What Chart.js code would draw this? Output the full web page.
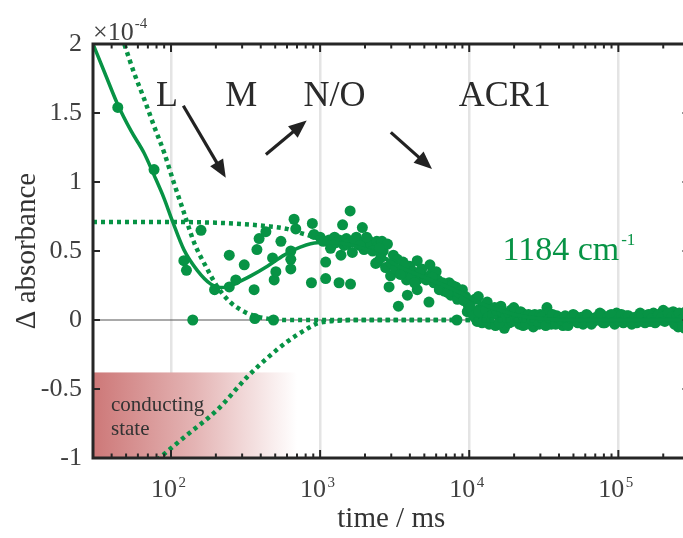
<!DOCTYPE html>
<html>
<head>
<meta charset="utf-8">
<script src="https://cdn.jsdelivr.net/npm/chart.js@4"></script>
<style>
  html, body { margin: 0; padding: 0; overflow: hidden; background: #fff; width: 683px; height: 538px; }
  #wrap { width: 700px; height: 538px; }
</style>
</head>
<body>
<div id="wrap"><canvas id="c" width="700" height="538"></canvas></div>
<script>
// ---- axis ticks ----
const xTicks = [100, 1000, 10000, 100000];
const xTickExp = ['2', '3', '4', '5'];
const yTicks = [-1, -0.5, 0, 0.5, 1, 1.5, 2];
const yTickLabels = ['-1', '-0.5', '0', '0.5', '1', '1.5', '2'];

// ---- measured transient at 1184 cm-1 (time in ms, ΔA in 1e-4) ----
const dataT = [
  44, 77, 122, 127, 140, 159, 196, 246, 246, 272, 310, 361, 365, 377, 390, 433, 480, 492, 505, 487,
  546, 636, 636, 636, 669, 687, 887, 910, 875, 1000, 1090, 1090, 1150, 1175, 1200, 1250, 1340, 1340, 1380, 1415,
  1450, 1500, 1590, 1600, 1600, 1645, 1750, 1920, 1920, 1970, 2100, 2200, 2360, 2400, 2430, 2430, 2600, 2650, 2750, 2830,
  2900, 2970, 3100, 3300, 3350, 3390, 3600, 3800, 3850, 3850, 4000, 4200, 4480, 4480, 4480, 4800, 5000, 5370, 5450, 5530,
  5800, 6000, 6130, 6450, 6790, 7000, 7330, 7530, 7800, 8130, 8260, 8340, 8800, 9000, 9450, 9700, 10000, 10500, 10900, 11100,
  11300, 11500, 11800, 12000, 12500, 13200, 13600, 14000, 14800, 15000, 15500, 16300, 16800, 17200, 17200, 18100, 18600, 19000, 19900, 20400,
  20800, 21700, 22600, 23000, 23600, 24600, 25500, 26000, 26900, 27500, 28300, 29500, 31000, 32000, 33200, 34000, 35500, 37000, 38700, 40600,
  42500, 45000, 47000, 49800, 52000, 55200, 58000, 61200, 64000, 67800, 71000, 75200, 79000, 83300, 87000, 92000, 97300, 102000, 108000, 114000,
  120000, 126000, 133000, 140000, 147000, 155000, 163000, 172000, 181000, 190000, 200000, 211000, 222000, 233000, 243000, 252000, 259000, 266000, 273000, 280000,
  287000, 295000,
  1050, 1280, 1520, 1700, 1850, 2050, 2250, 2500, 2550, 3000, 3200, 3450, 3700, 4100, 4300, 4650, 5150, 5650, 6300, 6600,
  7150, 7700, 8500, 9200, 9900,
  10200, 10700, 11600, 12200, 12900, 13400, 14400, 15200, 15900, 16600, 17600, 18400, 19400, 20100, 21200, 22100, 23300, 24100, 25000, 26400,
  27000, 28900, 29900,
  30500, 32600, 34700, 36200, 38000, 39800, 41500, 44000, 46000, 48500, 51000, 53500, 56500, 59500, 62500, 66000, 69500, 73000, 77000, 81000,
  85000, 89500, 94500, 99500, 105000, 111000, 117000, 123000, 129500, 136500, 143500, 151000, 159000, 167500, 176500, 185500, 195000, 205000, 216000, 227500,
  238000, 248000, 256000, 262500, 269500, 276500, 283500, 291000, 298000
];
const dataV = [
  1.54, 1.09, 0.43, 0.36, 0.00, 0.65, 0.22, 0.47, 0.24, 0.29, 0.40, 0.22, 0.01, 0.51, 0.59, 0.64, 0.45, 0.29, 0.35, 0.00,
  0.57, 0.50, 0.44, 0.37, 0.73, 0.66, 0.70, 0.62, 0.27, 0.60, 0.42, 0.30, 0.58, 0.52, 0.55, 0.60, 0.58, 0.27, 0.47, 0.69,
  0.54, 0.59, 0.79, 0.57, 0.26, 0.49, 0.60, 0.67, 0.56, 0.51, 0.58, 0.55, 0.41, 0.57, 0.53, 0.42, 0.57, 0.50, 0.38, 0.55,
  0.24, 0.32, 0.47, 0.44, 0.10, 0.36, 0.42, 0.29, 0.18, 0.36, 0.39, 0.35, 0.43, 0.29, 0.22, 0.37, 0.31, 0.13, 0.40, 0.33,
  0.27, 0.35, 0.29, 0.24, 0.21, 0.25, 0.27, 0.18, 0.21, 0.24, 0.00, 0.15, 0.19, 0.22, 0.17, 0.06, 0.12, 0.05, 0.15, 0.01,
  -0.01, 0.17, 0.08, 0.02, 0.10, 0.13, -0.03, 0.06, 0.09, -0.04, 0.04, 0.10, 0.00, 0.05, -0.06, 0.02, -0.02, 0.07, 0.09, 0.03,
  0.01, -0.03, 0.05, -0.04, 0.00, 0.03, -0.02, 0.02, -0.05, 0.04, 0.01, -0.03, -0.02, 0.03, 0.09, 0.05, -0.03, 0.01, 0.03, -0.02,
  -0.04, 0.00, 0.02, 0.04, -0.01, 0.01, -0.03, 0.04, 0.00, -0.01, 0.02, 0.05, -0.02, 0.01, 0.03, -0.01, 0.05, 0.02, -0.02, 0.03,
  0.00, 0.00, -0.02, 0.05, 0.01, 0.03, -0.01, 0.05, 0.02, 0.00, 0.07, 0.04, 0.01, 0.06, 0.03, -0.05, 0.01, -0.03, 0.04, -0.06,
  0.02, -0.02,
  0.57, 0.56, 0.55, 0.58, 0.54, 0.60, 0.50, 0.52, 0.45, 0.41, 0.37, 0.33, 0.40, 0.31, 0.27, 0.34, 0.29, 0.31, 0.22, 0.27,
  0.20, 0.25, 0.20, 0.14, 0.10,
  0.09, 0.03, 0.06, -0.02, 0.07, 0.02, 0.04, 0.07, -0.02, 0.06, 0.02, 0.05, -0.01, 0.06, 0.02, 0.06, 0.02, -0.03, 0.04, 0.00,
  0.03, -0.01, 0.04,
  0.02, -0.04, 0.01, 0.04, -0.03, 0.02, 0.00, 0.03, -0.04, 0.01, 0.03, -0.02, 0.02, 0.00, 0.03, -0.03, 0.01, 0.00, 0.04, -0.02,
  0.02, 0.04, -0.03, 0.00, 0.04, 0.01, 0.03, -0.03, 0.02, 0.00, 0.03, -0.02, 0.04, 0.01, -0.02, 0.04, 0.02, -0.01, 0.05, 0.02,
  -0.03, 0.03, 0.05, 0.00, -0.05, 0.02, 0.06, -0.04, 0.01
];

// ---- global fit ----
const fitT = [30, 36, 44, 54, 66, 77, 90, 102, 122, 150, 185, 215, 240, 290, 343, 443, 574, 743, 960, 1310,
              1780, 2180, 2690, 3480, 4480, 5800, 7530, 9400, 12000, 15000, 20000, 30000, 50000, 300000];
const fitV = [2.00, 1.79, 1.56, 1.37, 1.21, 1.05, 0.88, 0.72, 0.51, 0.36, 0.26, 0.235, 0.24, 0.28, 0.32, 0.39, 0.47, 0.53, 0.56, 0.56,
              0.53, 0.50, 0.45, 0.38, 0.33, 0.28, 0.23, 0.18, 0.12, 0.08, 0.04, 0.01, 0.00, 0.00];

// ---- fit components ----
const decayT = [40, 48.6, 56.6, 66.2, 77.3, 90.2, 102.7, 122, 143, 171, 205, 249, 310, 361, 443, 600, 1000, 300000];
const decayV = [2.27, 2.00, 1.79, 1.60, 1.40, 1.21, 1.02, 0.78, 0.56, 0.39, 0.24, 0.13, 0.06, 0.03, 0.01, 0.00, 0.00, 0.00];

const plateauT = [30, 100, 200, 300, 443, 600, 743, 1000, 1310, 1780, 2180, 2690, 3480, 4480, 5800, 7530, 9400, 12000, 15000, 20000, 30000, 50000, 300000];
const plateauV = [0.71, 0.71, 0.705, 0.695, 0.68, 0.66, 0.63, 0.59, 0.56, 0.53, 0.50, 0.45, 0.38, 0.33, 0.28, 0.23, 0.18, 0.12, 0.08, 0.04, 0.01, 0.00, 0.00];

const riseT = [50, 60, 70, 85.7, 129, 205, 326, 443, 605, 800, 960, 1300, 2000, 300000];
const riseV = [-1.20, -1.13, -1.07, -0.99, -0.83, -0.65, -0.41, -0.275, -0.155, -0.07, -0.025, -0.005, 0.00, 0.00];

const baseT = [30, 300000];
const baseV = [0, 0];

const X_MIN = 30, X_MAX = 300000;
const SERIF = "'Liberation Serif', 'Times New Roman', serif";
const GREEN = '#079345';
const INK = '#262626';
const LABEL = '#404040';

const pts = (t, v) => t.map((x, i) => ({ x, y: v[i] }));

function seg(ctx, x0, y0, x1, y1) {
  ctx.beginPath(); ctx.moveTo(x0, y0); ctx.lineTo(x1, y1); ctx.stroke();
}

function arrow(ctx, x0, y0, x1, y1) {
  const a = Math.atan2(y1 - y0, x1 - x0);
  const hl = 18, hw = 7.5;
  const bx = x1 - hl * Math.cos(a), by = y1 - hl * Math.sin(a);
  ctx.lineWidth = 3.2;
  seg(ctx, x0, y0, bx + 2 * Math.cos(a), by + 2 * Math.sin(a));
  ctx.beginPath();
  ctx.moveTo(x1, y1);
  ctx.lineTo(bx + hw * Math.sin(a), by - hw * Math.cos(a));
  ctx.lineTo(bx - hw * Math.sin(a), by + hw * Math.cos(a));
  ctx.closePath();
  ctx.fill();
}

const decor = {
  id: 'decor',
  beforeDatasetsDraw(chart) {
    const { ctx, chartArea: a, scales: { x, y } } = chart;
    ctx.save();
    // conducting-state band
    const xr = x.getPixelForValue(700);
    const yt = y.getPixelForValue(-0.38);
    const g = ctx.createLinearGradient(a.left, 0, xr, 0);
    g.addColorStop(0, 'rgb(205,120,120)');
    g.addColorStop(0.5, 'rgb(228,180,180)');
    g.addColorStop(1, 'rgb(255,255,255)');
    ctx.fillStyle = g;
    ctx.fillRect(a.left, yt, xr - a.left, a.bottom - yt);
    ctx.fillStyle = '#333';
    ctx.font = '21px ' + SERIF;
    ctx.textAlign = 'left';
    ctx.textBaseline = 'alphabetic';
    ctx.fillText('conducting', a.left + 18, y.getPixelForValue(-0.662));
    ctx.fillText('state', a.left + 18, y.getPixelForValue(-0.83));
    ctx.restore();
  },
  afterDatasetsDraw(chart) {
    const { ctx, chartArea: a, scales: { x, y } } = chart;
    ctx.save();
    ctx.strokeStyle = INK;
    ctx.fillStyle = INK;
    ctx.lineCap = 'butt';

    // inward ticks on all four sides
    ctx.lineWidth = 2;
    for (const v of yTicks) {
      const py = y.getPixelForValue(v);
      seg(ctx, a.left, py, a.left + 7, py);
      seg(ctx, a.right, py, a.right - 7, py);
    }
    for (let d = 10; d <= 100000; d *= 10) {
      for (let k = 1; k <= 9; k++) {
        const v = k * d;
        if (v < X_MIN || v > X_MAX) continue;
        const px = x.getPixelForValue(v);
        const len = k === 1 ? 8 : 4.5;
        seg(ctx, px, a.bottom, px, a.bottom - len);
        seg(ctx, px, a.top, px, a.top + len);
      }
    }
    // axes box
    ctx.lineWidth = 3;
    ctx.strokeRect(a.left, a.top, a.right - a.left, a.bottom - a.top);

    // decade tick labels
    ctx.fillStyle = LABEL;
    ctx.textAlign = 'left';
    ctx.textBaseline = 'alphabetic';
    xTicks.forEach((v, i) => {
      const px = x.getPixelForValue(v);
      ctx.font = '26px ' + SERIF;
      ctx.fillText('10', px - 20, a.bottom + 39);
      ctx.font = '15px ' + SERIF;
      ctx.fillText(xTickExp[i], px + 7.5, a.bottom + 29);
    });

    // exponent of the y axis
    ctx.font = '26px ' + SERIF;
    ctx.fillText('\u00d710', a.left, a.top - 4);
    const w = ctx.measureText('\u00d710').width;
    ctx.font = '15px ' + SERIF;
    ctx.fillText('-4', a.left + w + 1, a.top - 16);

    // photocycle intermediates
    const P = (t, v) => [x.getPixelForValue(t), y.getPixelForValue(v)];
    ctx.fillStyle = '#2a2a2a';
    ctx.font = '36px ' + SERIF;
    [['L', 79.3], ['M', 231], ['N/O', 773], ['ACR1', 8520]].forEach(([s, t]) => {
      const [px, py] = P(t, 1.553);
      ctx.fillText(s, px, py);
    });
    ctx.strokeStyle = '#222';
    ctx.fillStyle = '#222';
    [[[121, 1.553], [233, 1.03]],
     [[433, 1.20], [813, 1.446]],
     [[2980, 1.36], [5630, 1.094]]].forEach(([p0, p1]) => {
      const [x0, y0] = P(p0[0], p0[1]);
      const [x1, y1] = P(p1[0], p1[1]);
      arrow(ctx, x0, y0, x1, y1);
    });

    // wavenumber label
    ctx.fillStyle = GREEN;
    ctx.font = '34px ' + SERIF;
    const [wx, wy] = P(16700, 0.432);
    ctx.fillText('1184 cm', wx, wy);
    const ww = ctx.measureText('1184 cm').width;
    ctx.font = '17px ' + SERIF;
    ctx.fillText('-1', wx + ww + 2, wy - 15);
    ctx.restore();
  }
};

const lineBase = { showLine: true, pointRadius: 0, fill: false, cubicInterpolationMode: 'monotone', clip: 0 };
const dotted = { ...lineBase, borderColor: GREEN, borderWidth: 4.5, borderDash: [4, 4], order: 1 };

new Chart(document.getElementById('c'), {
  type: 'scatter',
  data: {
    datasets: [
      { ...lineBase, data: pts(fitT, fitV), borderColor: GREEN, borderWidth: 3.5, order: 0 },
      { ...dotted, data: pts(decayT, decayV) },
      { ...dotted, data: pts(plateauT, plateauV) },
      { ...dotted, data: pts(riseT, riseV) },
      { data: pts(dataT, dataV), backgroundColor: GREEN, borderWidth: 0, pointRadius: 5.5, order: 2 },
      { ...lineBase, data: pts(baseT, baseV), borderColor: '#555', borderWidth: 1, order: 3 }
    ]
  },
  options: {
    responsive: false,
    animation: false,
    layout: { padding: { top: 44, right: 10.5, left: 0, bottom: 0 } },
    plugins: { legend: { display: false }, tooltip: { enabled: false } },
    scales: {
      x: {
        type: 'logarithmic',
        min: X_MIN, max: X_MAX,
        afterBuildTicks: s => { s.ticks = xTicks.map(v => ({ value: v })); },
        afterFit: s => { s.height = 80; },
        ticks: { display: false },
        grid: { color: '#e4e4e4', lineWidth: 2.5, drawTicks: false },
        border: { display: false },
        title: {
          display: true, text: 'time / ms', color: '#333',
          font: { family: SERIF, size: 29 }, padding: { top: 0, bottom: 1.5 }
        }
      },
      y: {
        min: -1, max: 2,
        afterBuildTicks: s => { s.ticks = yTicks.map(v => ({ value: v })); },
        afterFit: s => { s.width = 93; },
        ticks: {
          color: LABEL, padding: 11, font: { family: SERIF, size: 26 },
          callback: (v, i) => yTickLabels[i]
        },
        grid: { display: false, drawTicks: false },
        border: { display: false },
        title: {
          display: true, text: '\u0394 absorbance', color: '#333',
          font: { family: SERIF, size: 29 }, padding: { top: 10, bottom: 0 }
        }
      }
    }
  },
  plugins: [decor]
});
</script>
</body>
</html>
